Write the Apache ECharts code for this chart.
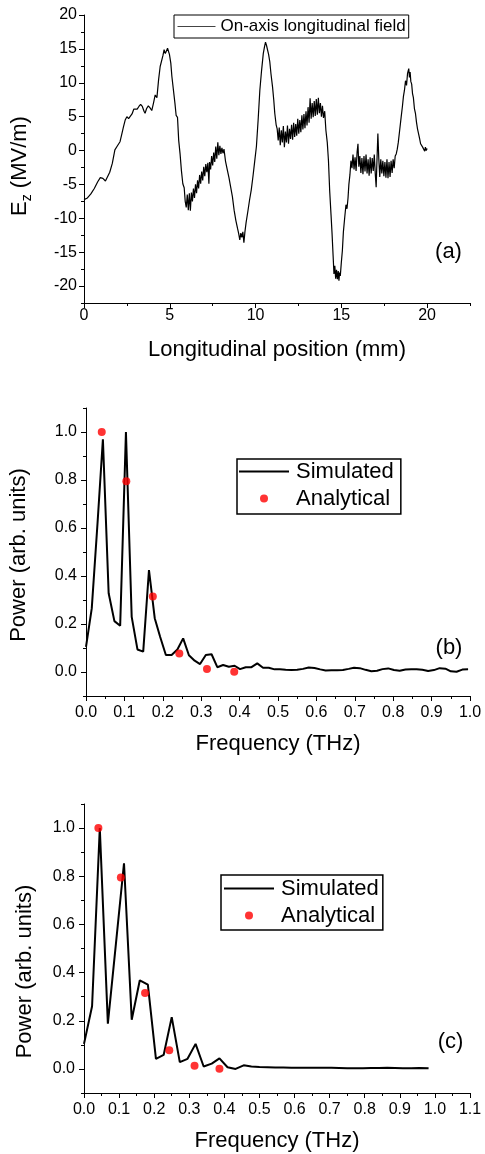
<!DOCTYPE html>
<html><head><meta charset="utf-8">
<script src="https://cdn.jsdelivr.net/npm/echarts@6/dist/echarts.min.js"></script>
<style>html,body{margin:0;padding:0;background:#fff}#c{width:485px;height:1154px}</style>
</head><body><div id="c"></div>
<script>
const FONT = '"Liberation Sans", Arial, sans-serif';

// ---------- Panel (a): on-axis longitudinal field, [position mm, Ez MV/m]
const fieldTraceA = [
[0,-7.25],[0.2,-7.0],[0.4,-6.4],[0.6,-5.6],[0.8,-4.6],[0.95,-4.0],[1.1,-4.1],[1.25,-4.5],[1.35,-4.4],[1.5,-3.2],
[1.65,-1.9],[1.8,0.1],[1.95,0.7],[2.1,1.3],[2.2,2.4],[2.3,3.5],[2.4,4.5],[2.5,5.0],[2.6,4.7],[2.68,4.6],
[2.8,5.4],[2.9,6.1],[3.0,6.2],[3.1,6.1],[3.2,6.5],[3.3,6.8],[3.4,6.5],[3.5,5.8],[3.56,5.5],[3.65,6.2],
[3.75,6.6],[3.85,6.3],[3.95,5.9],[4.05,7.0],[4.15,8.2],[4.25,7.8],[4.35,10.5],[4.44,12.4],[4.52,12.6],[4.6,14.0],
[4.67,14.9],[4.74,14.3],[4.8,14.1],[4.87,15.1],[4.92,15.3],[4.98,14.2],[5.06,12.9],[5.12,11.0],[5.2,10.8],[5.3,7.0],
[5.37,5.2],[5.45,4.9],[5.52,1.5],[5.6,-0.5],
[5.68,-3.0],[5.76,-4.9],[5.84,-5.5],[5.9,-7.5],[5.96,-8.4],[6.02,-6.5],[6.08,-8.8],[6.14,-6.3],[6.2,-8.9],[6.26,-6.2],
[6.32,-7.5],[6.38,-5.6],[6.44,-7.0],[6.5,-5.0],[6.56,-6.3],[6.62,-4.4],[6.68,-5.6],[6.74,-3.6],[6.8,-4.9],[6.86,-3.1],
[6.92,-4.4],[6.98,-2.4],[7.04,-3.8],[7.1,-2.0],[7.16,-3.2],[7.22,-1.8],[7.28,-4.9],[7.32,-1.7],[7.38,-2.8],[7.44,-0.8],
[7.5,-2.2],[7.56,-0.3],[7.62,-1.7],[7.68,0.6],[7.74,-1.2],[7.8,1.2],[7.86,-0.7],[7.92,0.7],[7.98,-0.5],[8.04,0.4],
[8.1,-0.4],[8.16,0.2],
[8.25,-1.6],[8.35,-2.8],[8.45,-4.0],[8.55,-5.4],[8.65,-6.8],[8.75,-8.8],[8.85,-10.3],[8.95,-11.5],[9.02,-12.3],[9.08,-13.2],
[9.14,-12.2],[9.2,-12.8],[9.26,-12.0],[9.32,-13.6],[9.38,-12.0],[9.45,-10.6],[9.55,-9.0],[9.65,-7.3],[9.75,-5.8],[9.85,-3.8],
[9.95,-1.6],[10.05,0.6],[10.15,4.5],[10.25,8.9],[10.35,11.8],[10.45,14.3],[10.52,15.3],[10.58,16.0],[10.64,15.5],[10.7,15.3],
[10.76,14.2],[10.83,13.1],[10.9,11.3],[10.99,9.4],[11.06,7.5],[11.12,5.5],[11.2,3.8],
[11.26,3.2],[11.32,1.5],[11.38,3.4],[11.44,0.8],[11.5,3.0],[11.56,1.2],[11.62,3.6],[11.68,0.5],[11.74,2.8],[11.8,1.2],
[11.86,3.7],[11.92,1.0],[11.98,3.2],[12.04,1.7],[12.1,3.8],[12.16,1.6],[12.22,4.1],[12.28,2.0],[12.34,3.9],[12.4,2.2],
[12.46,4.7],[12.52,2.5],[12.58,4.5],[12.64,2.7],[12.7,5.2],[12.76,3.1],[12.82,5.4],[12.88,3.3],[12.94,5.8],[13.0,3.7],
[13.06,6.4],[13.12,4.1],[13.18,7.7],[13.24,4.7],[13.3,7.0],[13.36,4.9],[13.42,7.3],[13.48,5.1],[13.54,7.6],[13.6,5.3],
[13.66,7.8],[13.72,5.5],[13.78,7.0],[13.84,5.0],[13.9,6.6],[13.96,4.8],[14.03,5.8],[14.1,3.0],[14.18,1.2],
[14.25,-1.5],[14.32,-5.9],[14.4,-9.5],[14.46,-12.3],[14.52,-15.5],[14.57,-18.2],[14.62,-17.0],[14.67,-18.9],[14.72,-17.6],[14.77,-19.0],
[14.82,-17.8],[14.86,-19.2],[14.9,-18.0],[14.94,-18.5],[15.0,-16.5],[15.06,-14.8],[15.12,-12.0],[15.2,-9.8],[15.27,-8.0],[15.33,-8.6],
[15.39,-7.0],[15.44,-5.0],[15.5,-3.6],[15.56,-1.5],
[15.62,-2.6],[15.68,-0.6],[15.74,-2.8],[15.8,-1.0],[15.86,-3.0],[15.92,-0.2],[15.97,1.0],[16.02,-2.4],[16.08,-0.8],[16.14,-3.3],
[16.2,-1.1],[16.26,-3.5],[16.32,-0.8],[16.38,-3.1],[16.44,-0.6],[16.5,-3.4],[16.56,-1.3],[16.62,-3.7],[16.68,-1.0],[16.74,-3.4],
[16.8,-1.1],[16.86,-3.0],[16.92,-0.6],[16.98,-3.5],[17.03,-5.4],[17.08,-1.2],[17.13,2.5],[17.18,-1.0],[17.24,-3.9],[17.3,-1.3],
[17.36,-3.4],[17.42,-1.5],[17.48,-3.8],[17.54,-1.7],[17.6,-4.0],[17.66,-1.3],[17.72,-4.1],[17.78,-1.7],[17.84,-3.9],[17.9,-1.5],
[17.96,-3.3],[18.02,-1.3],[18.08,-2.6],[18.14,-0.8],[18.2,-0.5],[18.26,0.2],
[18.32,1.2],[18.4,3.0],[18.49,5.0],[18.56,6.5],[18.62,8.0],[18.68,8.9],[18.74,10.3],[18.8,9.6],[18.86,11.4],[18.9,11.8],
[18.93,12.1],[18.97,10.8],[19.01,11.6],[19.05,10.2],[19.1,9.8],[19.15,8.4],[19.2,7.8],[19.26,6.2],[19.32,5.5],[19.38,4.2],
[19.44,3.2],[19.5,2.5],[19.56,1.8],[19.62,1.0],[19.68,1.2],[19.74,0.5],[19.8,0.6],[19.86,-0.1],[19.9,0.5],[19.95,0.0],[20.0,0.3]
];
const xTicksA = [0, 5, 10, 15, 20];
const xMinorA = [2.5, 7.5, 12.5, 17.5, 22.5];
const yTicksA = [-20, -15, -10, -5, 0, 5, 10, 15, 20];
const yMinorA = [-22.5, -17.5, -12.5, -7.5, -2.5, 2.5, 7.5, 12.5, 17.5];

// ---------- Panel (b): spectrum
const freqSimB = [0, 0.015, 0.030, 0.044, 0.059, 0.074, 0.089, 0.104, 0.119, 0.134, 0.149, 0.164, 0.179, 0.193, 0.208, 0.223, 0.238, 0.253, 0.268, 0.283,
  0.297, 0.312, 0.327, 0.342, 0.357, 0.372, 0.387, 0.401, 0.416, 0.431, 0.446, 0.461, 0.476, 0.491, 0.505, 0.52, 0.535, 0.55, 0.565, 0.58,
  0.595, 0.61, 0.624, 0.639, 0.654, 0.669, 0.684, 0.698, 0.713, 0.728, 0.743, 0.758, 0.772, 0.787, 0.802, 0.817, 0.832, 0.847, 0.861, 0.876,
  0.891, 0.906, 0.921, 0.936, 0.95, 0.965, 0.98, 0.995];
const powerSimB = [0.105, 0.265, 0.62, 0.97, 0.328, 0.212, 0.193, 1.0, 0.23, 0.094, 0.085, 0.425, 0.224, 0.147, 0.071, 0.071, 0.094, 0.14, 0.07, 0.047,
  0.033, 0.071, 0.074, 0.02, 0.029, 0.022, 0.026, 0.012, 0.02, 0.02, 0.036, 0.018, 0.018, 0.011, 0.011, 0.009, 0.008, 0.009, 0.013, 0.019,
  0.017, 0.011, 0.006, 0.007, 0.007, 0.008, 0.013, 0.018, 0.016, 0.009, 0.003, 0.005, 0.012, 0.015, 0.008, 0.005, 0.01, 0.011, 0.011, 0.009,
  0.004, 0.008, 0.016, 0.014, 0.003, 0.001, 0.01, 0.011];

// ---------- Panel (c): spectrum
const freqSimC = [0, 0.023, 0.045, 0.068, 0.091, 0.114, 0.136, 0.159, 0.182, 0.205, 0.227, 0.25, 0.273, 0.295, 0.318, 0.341, 0.364, 0.386, 0.409, 0.432,
  0.455, 0.477, 0.5, 0.523, 0.545, 0.568, 0.591, 0.614, 0.636, 0.659, 0.682, 0.705, 0.727, 0.75, 0.773, 0.795, 0.818, 0.841, 0.864, 0.886,
  0.909, 0.932, 0.955, 0.982];
const powerSimC = [0.104, 0.26, 1.0, 0.188, 0.52, 0.854, 0.204, 0.368, 0.35, 0.042, 0.058, 0.215, 0.028, 0.042, 0.104, 0.01, 0.022, 0.044, 0.007, 0.0,
  0.015, 0.01, 0.008, 0.007, 0.006, 0.006, 0.005, 0.005, 0.005, 0.005, 0.005, 0.005, 0.004, 0.003, 0.003, 0.003, 0.004, 0.004, 0.005, 0.004,
  0.003, 0.003, 0.004, 0.003];

// ---------- Analytical harmonics (same in b and c)
const freqAna = [0.041, 0.105, 0.174, 0.243, 0.315, 0.386];
const powerAna = [1.0, 0.795, 0.315, 0.077, 0.013, 0.001];

const xTicksB = [0, 0.1, 0.2, 0.3, 0.4, 0.5, 0.6, 0.7, 0.8, 0.9, 1.0];
const xMinorB = [0.05, 0.15, 0.25, 0.35, 0.45, 0.55, 0.65, 0.75, 0.85, 0.95];
const xTicksC = [0, 0.1, 0.2, 0.3, 0.4, 0.5, 0.6, 0.7, 0.8, 0.9, 1.0, 1.1];
const xMinorC = [0.05, 0.15, 0.25, 0.35, 0.45, 0.55, 0.65, 0.75, 0.85, 0.95, 1.05];
const yTicksPow = [0, 0.2, 0.4, 0.6, 0.8, 1.0];
const yMinorPow = [-0.1, 0.1, 0.3, 0.5, 0.7, 0.9, 1.1];

const zip = (xs, ys) => xs.map((x, i) => [x, ys[i]]);
const BLACK = '#000';

function mainX(gi, min, max, ticks, fmt, name, gap, margin) {
  return { type: 'value', gridIndex: gi, min, max, position: 'bottom',
    axisLine: { show: true, onZero: false, lineStyle: { color: BLACK, width: 1 } },
    axisTick: { show: true, length: 5, customValues: ticks, lineStyle: { color: BLACK } },
    axisLabel: { show: true, customValues: ticks, formatter: fmt, color: BLACK, fontSize: 16, fontFamily: FONT, margin },
    splitLine: { show: false },
    name, nameLocation: 'middle', nameGap: gap,
    nameTextStyle: { color: BLACK, fontSize: 22, fontFamily: FONT } };
}
function minorX(gi, min, max, ticks) {
  return { type: 'value', gridIndex: gi, min, max, position: 'bottom', offset: 0,
    axisLine: { show: false, onZero: false },
    axisTick: { show: true, length: 3, customValues: ticks, lineStyle: { color: BLACK } },
    axisLabel: { show: false }, splitLine: { show: false } };
}
function mainY(gi, min, max, ticks, fmt, name, gap, margin, nts) {
  return { type: 'value', gridIndex: gi, min, max, position: 'left',
    axisLine: { show: true, onZero: false, lineStyle: { color: BLACK, width: 1 } },
    axisTick: { show: true, length: 5, customValues: ticks, lineStyle: { color: BLACK } },
    axisLabel: { show: true, customValues: ticks, formatter: fmt, color: BLACK, fontSize: 16, fontFamily: FONT, margin },
    splitLine: { show: false },
    name, nameLocation: 'middle', nameGap: gap,
    nameTextStyle: Object.assign({ color: BLACK, fontSize: 22, fontFamily: FONT }, nts || {}) };
}
function minorY(gi, min, max, ticks) {
  return { type: 'value', gridIndex: gi, min, max, position: 'left', offset: 0,
    axisLine: { show: false, onZero: false },
    axisTick: { show: true, length: 3, customValues: ticks, lineStyle: { color: BLACK } },
    axisLabel: { show: false }, splitLine: { show: false } };
}
const f0 = v => String(Math.round(v));
const f1 = v => v.toFixed(1);
const hiddenSymbol = { color: 'rgba(0,0,0,0)', borderWidth: 0, opacity: 0 };

const chart = echarts.init(document.getElementById('c'), null, { renderer: 'canvas' });
chart.setOption({
  animation: false,
  backgroundColor: '#fff',
  grid: [
    { left: 84, top: 15, width: 386, height: 288 },
    { left: 84, top: 408, width: 386, height: 288 },
    { left: 84, top: 804, width: 386, height: 289 }
  ],
  xAxis: [
    mainX(0, 0, 22.5, xTicksA, f0, 'Longitudinal position (mm)', 36, 5),
    mainX(1, 0, 1.0, xTicksB, f1, 'Frequency (THz)', 37, 9),
    mainX(2, 0, 1.1, xTicksC, f1, 'Frequency (THz)', 37, 9),
    minorX(0, 0, 22.5, xMinorA),
    minorX(1, 0, 1.0, xMinorB),
    minorX(2, 0, 1.1, xMinorC)
  ],
  yAxis: [
    mainY(0, -22.5, 20, yTicksA, f0, '{e|E}{s|z}{e| (MV/m)}', 50, 7,
      { rich: { e: { fontSize: 22, fontFamily: FONT, color: BLACK },
                s: { fontSize: 14, fontFamily: FONT, color: BLACK, verticalAlign: 'bottom', padding: [14, 0, 0, 0] } },
        padding: [0, 14, 0, 0] }),
    mainY(1, -0.1, 1.1, yTicksPow, f1, 'Power (arb. units)', 56, 9, { padding: [0, 6, 0, 0] }),
    mainY(2, -0.1, 1.1, yTicksPow, f1, 'Power (arb. units)', 48, 9, { padding: [0, 46, 0, 0] }),
    minorY(0, -22.5, 20, yMinorA),
    minorY(1, -0.1, 1.1, yMinorPow),
    minorY(2, -0.1, 1.1, yMinorPow)
  ],
  legend: [
    { data: [{ name: 'On-axis longitudinal field', itemStyle: hiddenSymbol }], left: 174, top: 15, orient: 'vertical',
      padding: [2, 3, 2, 3], itemWidth: 38, itemHeight: 10, borderColor: BLACK, borderWidth: 1,
      lineStyle: { color: '#444', width: 1 },
      textStyle: { fontSize: 17, lineHeight: 19, fontFamily: FONT, color: BLACK }, selectedMode: false },
    { data: [{ name: 'Simulated', itemStyle: hiddenSymbol }, 'Analytical'], left: 237, top: 459, orient: 'vertical', align: 'left',
      padding: [0, 7, 3, 1], itemWidth: 50, itemHeight: 8, itemGap: 2, borderColor: BLACK, borderWidth: 1.5,
      textStyle: { fontSize: 22, lineHeight: 25, fontFamily: FONT, color: BLACK, padding: [0, 0, 0, 2] }, selectedMode: false },
    { data: [{ name: 'Simulated', itemStyle: hiddenSymbol }, 'Analytical'], left: 221, top: 875, orient: 'vertical', align: 'left',
      padding: [1, 4, 2, 2], itemWidth: 50, itemHeight: 8, itemGap: 2, borderColor: BLACK, borderWidth: 1.5,
      textStyle: { fontSize: 22, lineHeight: 25, fontFamily: FONT, color: BLACK, padding: [0, 0, 0, 2] }, selectedMode: false }
  ],
  graphic: [
    { type: 'text', x: 448.5, y: 252, style: { text: '(a)', fontSize: 22, fontFamily: FONT, fill: BLACK, align: 'center', verticalAlign: 'middle' } },
    { type: 'text', x: 449, y: 648, style: { text: '(b)', fontSize: 22, fontFamily: FONT, fill: BLACK, align: 'center', verticalAlign: 'middle' } },
    { type: 'text', x: 450.5, y: 1042, style: { text: '(c)', fontSize: 22, fontFamily: FONT, fill: BLACK, align: 'center', verticalAlign: 'middle' } }
  ],
  series: [
    { name: 'On-axis longitudinal field', type: 'line', xAxisIndex: 0, yAxisIndex: 0, data: fieldTraceA,
      symbol: 'none', showSymbol: false, lineStyle: { color: BLACK, width: 1.2 }, itemStyle: { color: BLACK } },
    { name: 'Simulated', type: 'line', xAxisIndex: 1, yAxisIndex: 1, data: zip(freqSimB, powerSimB),
      symbol: 'none', showSymbol: false, lineStyle: { color: BLACK, width: 2 }, itemStyle: { color: BLACK }, z: 2 },
    { name: 'Analytical', type: 'scatter', xAxisIndex: 1, yAxisIndex: 1, data: zip(freqAna, powerAna),
      symbol: 'circle', symbolSize: 8, itemStyle: { color: '#ff0000' }, z: 3 },
    { name: 'Simulated', type: 'line', xAxisIndex: 2, yAxisIndex: 2, data: zip(freqSimC, powerSimC),
      symbol: 'none', showSymbol: false, lineStyle: { color: BLACK, width: 2 }, itemStyle: { color: BLACK }, z: 2 },
    { name: 'Analytical', type: 'scatter', xAxisIndex: 2, yAxisIndex: 2, data: zip(freqAna, powerAna),
      symbol: 'circle', symbolSize: 8, itemStyle: { color: '#ff0000' }, z: 3 }
  ]
});
</script></body></html>
